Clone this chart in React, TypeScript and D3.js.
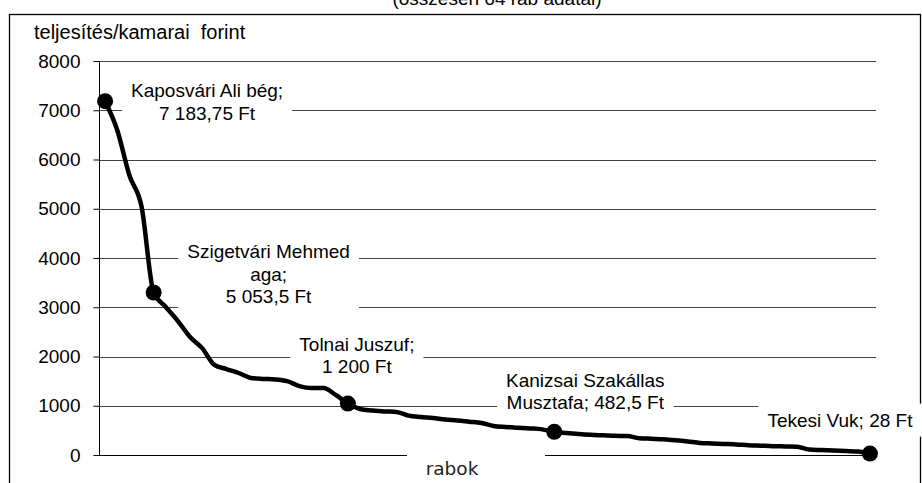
import React, { useEffect, useRef } from "react";
import * as d3 from "d3";

const values: number[] = [
  7183.75, 6600, 5680, 5050, 3300, 3005, 2720, 2395, 2170, 1830,
  1745, 1665, 1565, 1545, 1535, 1500, 1400, 1360, 1360, 1220,
  1045, 935, 905, 885, 875, 800, 770, 750, 720, 700,
  675, 650, 590, 570, 555, 540, 520, 470, 445, 425,
  410, 400, 390, 385, 340, 330, 320, 300, 275, 245,
  235, 225, 215, 200, 190, 180, 175, 170, 110, 100,
  90, 80, 70, 28,
];
const yTicks: number[] = [0, 1000, 2000, 3000, 4000, 5000, 6000, 7000, 8000];
const markerIndices: number[] = [0, 4, 20, 37, 63];
const labelLines: string[][] = [
  ["Kaposvári Ali bég;", "7 183,75 Ft"],
  ["Szigetvári Mehmed", "aga;", "5 053,5 Ft"],
  ["Tolnai Juszuf;", "1 200 Ft"],
  ["Kanizsai Szakállas", "Musztafa; 482,5 Ft"],
  ["Tekesi Vuk; 28 Ft"],
];
// label offsets relative to marker: [dx, first baseline dy]
const labelOffsets: [number, number][] = [
  [102, -4],
  [115, -34],
  [9, -53],
  [31, -45],
  [-30, -27],
];
const yTitle = "teljesítés/kamarai  forint";
const xTitle = "rabok";
const chartTitle = "(összesen 64 rab adatai)";

const W = 922;
const H = 483;
const FONT = "'Liberation Sans', Arial, sans-serif";

export default function App() {
  const ref = useRef<SVGSVGElement | null>(null);

  useEffect(() => {
    const svg = d3.select(ref.current);
    svg.selectAll("*").remove();

    const left = 99, right = 876, top = 61, bottom = 455;
    const x = d3
      .scaleBand<number>()
      .domain(values.map((_, i) => i))
      .range([left, right]);
    const xc = (i: number) => (x(i) as number) + x.bandwidth() / 2;
    const y = d3.scaleLinear().domain([0, 8000]).range([bottom, top]);

    svg.append("rect").attr("width", W).attr("height", H).attr("fill", "#fff");

    // outer frame
    svg
      .append("rect")
      .attr("x", 9.5)
      .attr("y", 14.5)
      .attr("width", 911)
      .attr("height", 490)
      .attr("fill", "none")
      .attr("stroke", "#000")
      .attr("stroke-width", 1.3);

    // title (cut off at the top, as in the source)
    svg
      .append("text")
      .attr("x", 497)
      .attr("y", 5)
      .attr("text-anchor", "middle")
      .attr("font-family", FONT)
      .attr("font-size", 19)
      .attr("fill", "#000")
      .text(chartTitle);

    // gridlines
    svg
      .append("g")
      .selectAll("line")
      .data(yTicks.filter((t) => t > 0))
      .join("line")
      .attr("x1", left)
      .attr("x2", right)
      .attr("y1", (d) => Math.round(y(d)) + 0.5)
      .attr("y2", (d) => Math.round(y(d)) + 0.5)
      .attr("stroke", "#444")
      .attr("stroke-width", 1);

    // y axis
    const yAxis = d3
      .axisLeft(y)
      .tickValues(yTicks)
      .tickSize(6)
      .tickPadding(13)
      .tickFormat((d) => String(d));
    const gy = svg.append("g").attr("transform", `translate(${left + 0.5},0)`).call(yAxis);
    gy.select(".domain").attr("stroke", "#000").attr("d", `M0,${top}V${bottom}`);
    gy.selectAll(".tick line").attr("stroke", "#000");
    gy.selectAll(".tick text")
      .attr("font-family", FONT)
      .attr("font-size", 19)
      .attr("fill", "#000");

    // x axis line
    svg
      .append("line")
      .attr("x1", left)
      .attr("x2", right)
      .attr("y1", bottom + 0.5)
      .attr("y2", bottom + 0.5)
      .attr("stroke", "#000")
      .attr("stroke-width", 1.2);

    // x title with white box
    svg
      .append("rect")
      .attr("x", 407)
      .attr("y", bottom - 4)
      .attr("width", 138)
      .attr("height", 40)
      .attr("fill", "#fff");
    svg
      .append("text")
      .attr("x", 452)
      .attr("y", 475)
      .attr("text-anchor", "middle")
      .attr("font-family", "'DejaVu Sans', Verdana, sans-serif")
      .attr("font-size", 18.5)
      .attr("fill", "#222")
      .text(xTitle);

    // y title
    svg
      .append("text")
      .attr("x", 34)
      .attr("y", 39)
      .attr("font-family", FONT)
      .attr("font-size", 20)
      .attr("fill", "#000")
      .style("white-space", "pre")
      .text(yTitle);

    // data labels with white boxes
    const labelsG = svg.append("g");
    markerIndices.forEach((idx, k) => {
      const px = xc(idx);
      const py = y(values[idx]);
      const [dx, dy] = labelOffsets[k];
      const g = labelsG.append("g");
      const rect = g.append("rect").attr("fill", "#fff");
      const t = g
        .append("text")
        .attr("text-anchor", "middle")
        .attr("font-family", FONT)
        .attr("font-size", 19)
        .attr("fill", "#000");
      labelLines[k].forEach((line, j) => {
        t.append("tspan")
          .attr("x", px + dx)
          .attr("y", py + dy + j * 22.5)
          .text(line);
      });
      const b = (t.node() as SVGTextElement).getBBox();
      rect
        .attr("x", b.x - 9)
        .attr("y", b.y - 6)
        .attr("width", b.width + 18)
        .attr("height", b.height + 12);
    });

    // line
    const line = d3
      .line<number>()
      .x((_, i) => xc(i))
      .y((d) => y(d))
      .curve(d3.curveMonotoneX);
    svg
      .append("path")
      .datum(values)
      .attr("d", line)
      .attr("fill", "none")
      .attr("stroke", "#000")
      .attr("stroke-width", 4.5)
      .attr("stroke-linejoin", "round")
      .attr("stroke-linecap", "round");

    // markers
    svg
      .append("g")
      .selectAll("circle")
      .data(markerIndices)
      .join("circle")
      .attr("cx", (i) => xc(i))
      .attr("cy", (i) => y(values[i]))
      .attr("r", 8)
      .attr("fill", "#000");
  }, []);

  return (
    <svg
      ref={ref}
      width={W}
      height={H}
      style={{ position: "absolute", left: 0, top: 0, display: "block" }}
    />
  );
}
